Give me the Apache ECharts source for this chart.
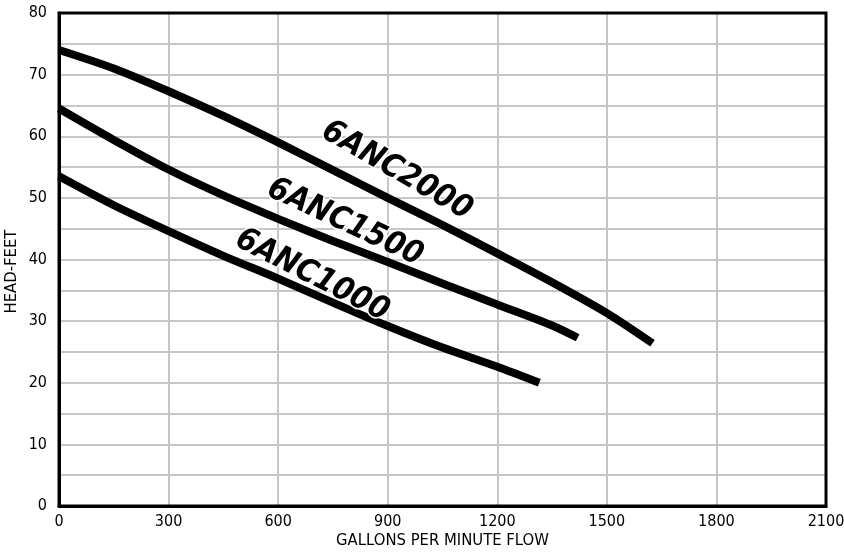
<!DOCTYPE html>
<html>
<head>
<meta charset="utf-8">
<script src="https://cdn.jsdelivr.net/npm/echarts@6/dist/echarts.min.js"></script>
<style>html,body{margin:0;padding:0;background:#fff}#c{width:844px;height:552px}</style>
</head>
<body>
<div id="c"></div>
<script>
var xTicks = [0, 300, 600, 900, 1200, 1500, 1800, 2100];
var yTicks = [0, 10, 20, 30, 40, 50, 60, 70, 80];

var pump2000 = [[0,74],[150,71],[300,67.3],[450,63.3],[600,59],[750,54.5],[900,50],[1050,45.6],[1200,41],[1350,36.3],[1500,31.3],[1625,26.4]];
var pump1500 = [[0,64.5],[150,59.4],[300,54.6],[450,50.4],[600,46.6],[750,43],[900,39.6],[1050,36.1],[1200,32.7],[1350,29.3],[1420,27.3]];
var pump1000 = [[0,53.5],[150,48.8],[300,44.6],[450,40.6],[600,36.9],[750,33],[900,29.2],[1050,25.7],[1200,22.6],[1315,20]];

var names = ['6ANC2000', '6ANC1500', '6ANC1000'];
var labelAnchors = [[925, 54.4, -30], [783, 46.0, -25], [693, 37.4, -27]];

var FONT = '"DejaVu Sans Condensed", "Liberation Sans", sans-serif';

function mkSeries(name, data, anchor) {
  return {
    name: name,
    type: 'line',
    data: data,
    smooth: 0.3,
    symbol: 'none',
    lineStyle: { color: '#000', width: 8, cap: 'butt' },
    markPoint: {
      symbol: 'circle',
      symbolSize: 1,
      silent: true,
      itemStyle: { color: 'rgba(0,0,0,0)' },
      data: [{ coord: [anchor[0], anchor[1]], value: name }],
      label: {
        show: true,
        formatter: name,
        position: 'inside',
        rotate: anchor[2],
        color: '#000',
        fontSize: 32,
        fontWeight: 'bolder',
        fontStyle: 'italic',
        fontFamily: '"DejaVu Sans Condensed", "Liberation Sans", sans-serif',
        textBorderColor: '#fff',
        textBorderWidth: 3
      }
    },
    z: 3
  };
}

var chart = echarts.init(document.getElementById('c'), null, { renderer: 'canvas' });
chart.setOption({
  animation: false,
  backgroundColor: '#fff',
  grid: { left: 59, right: 18, top: 13, bottom: 46, outerBoundsMode: 'none', containLabel: false, show: true, borderColor: '#000', borderWidth: 3, backgroundColor: 'transparent', z: 4 },
  xAxis: {
    type: 'value',
    min: xTicks[0], max: xTicks[xTicks.length - 1], interval: 300,
    name: 'GALLONS PER MINUTE FLOW',
    nameLocation: 'middle',
    nameGap: 26,
    nameMoveOverlap: false,
    nameTextStyle: { color: '#000', fontSize: 16.5, fontFamily: FONT },
    axisLine: { show: true, lineStyle: { color: '#000', width: 3 } },
    axisTick: { show: false },
    axisLabel: { color: '#000', fontSize: 16, fontFamily: FONT, margin: 8, formatter: function (v) { return String(v); } },
    splitLine: { show: true, lineStyle: { color: '#c6c6c6', width: 2 } }
  },
  yAxis: {
    type: 'value',
    min: yTicks[0], max: yTicks[yTicks.length - 1], interval: 10,
    name: 'HEAD-FEET',
    nameLocation: 'middle',
    nameGap: 39,
    nameMoveOverlap: false,
    nameTextStyle: { color: '#000', fontSize: 16.5, fontFamily: FONT, padding: [0, 24, 0, 0] },
    axisLine: { show: true, lineStyle: { color: '#000', width: 3 } },
    axisTick: { show: false },
    minorTick: { show: false, splitNumber: 2 },
    axisLabel: { color: '#000', fontSize: 16, fontFamily: FONT, margin: 12, formatter: function (v) { return String(v); } },
    splitLine: { show: true, lineStyle: { color: '#c6c6c6', width: 2 } },
    minorSplitLine: { show: true, lineStyle: { color: '#c6c6c6', width: 2 } }
  },
  series: [
    mkSeries(names[0], pump2000, labelAnchors[0]),
    mkSeries(names[1], pump1500, labelAnchors[1]),
    mkSeries(names[2], pump1000, labelAnchors[2])
  ]
});
</script>
</body>
</html>
